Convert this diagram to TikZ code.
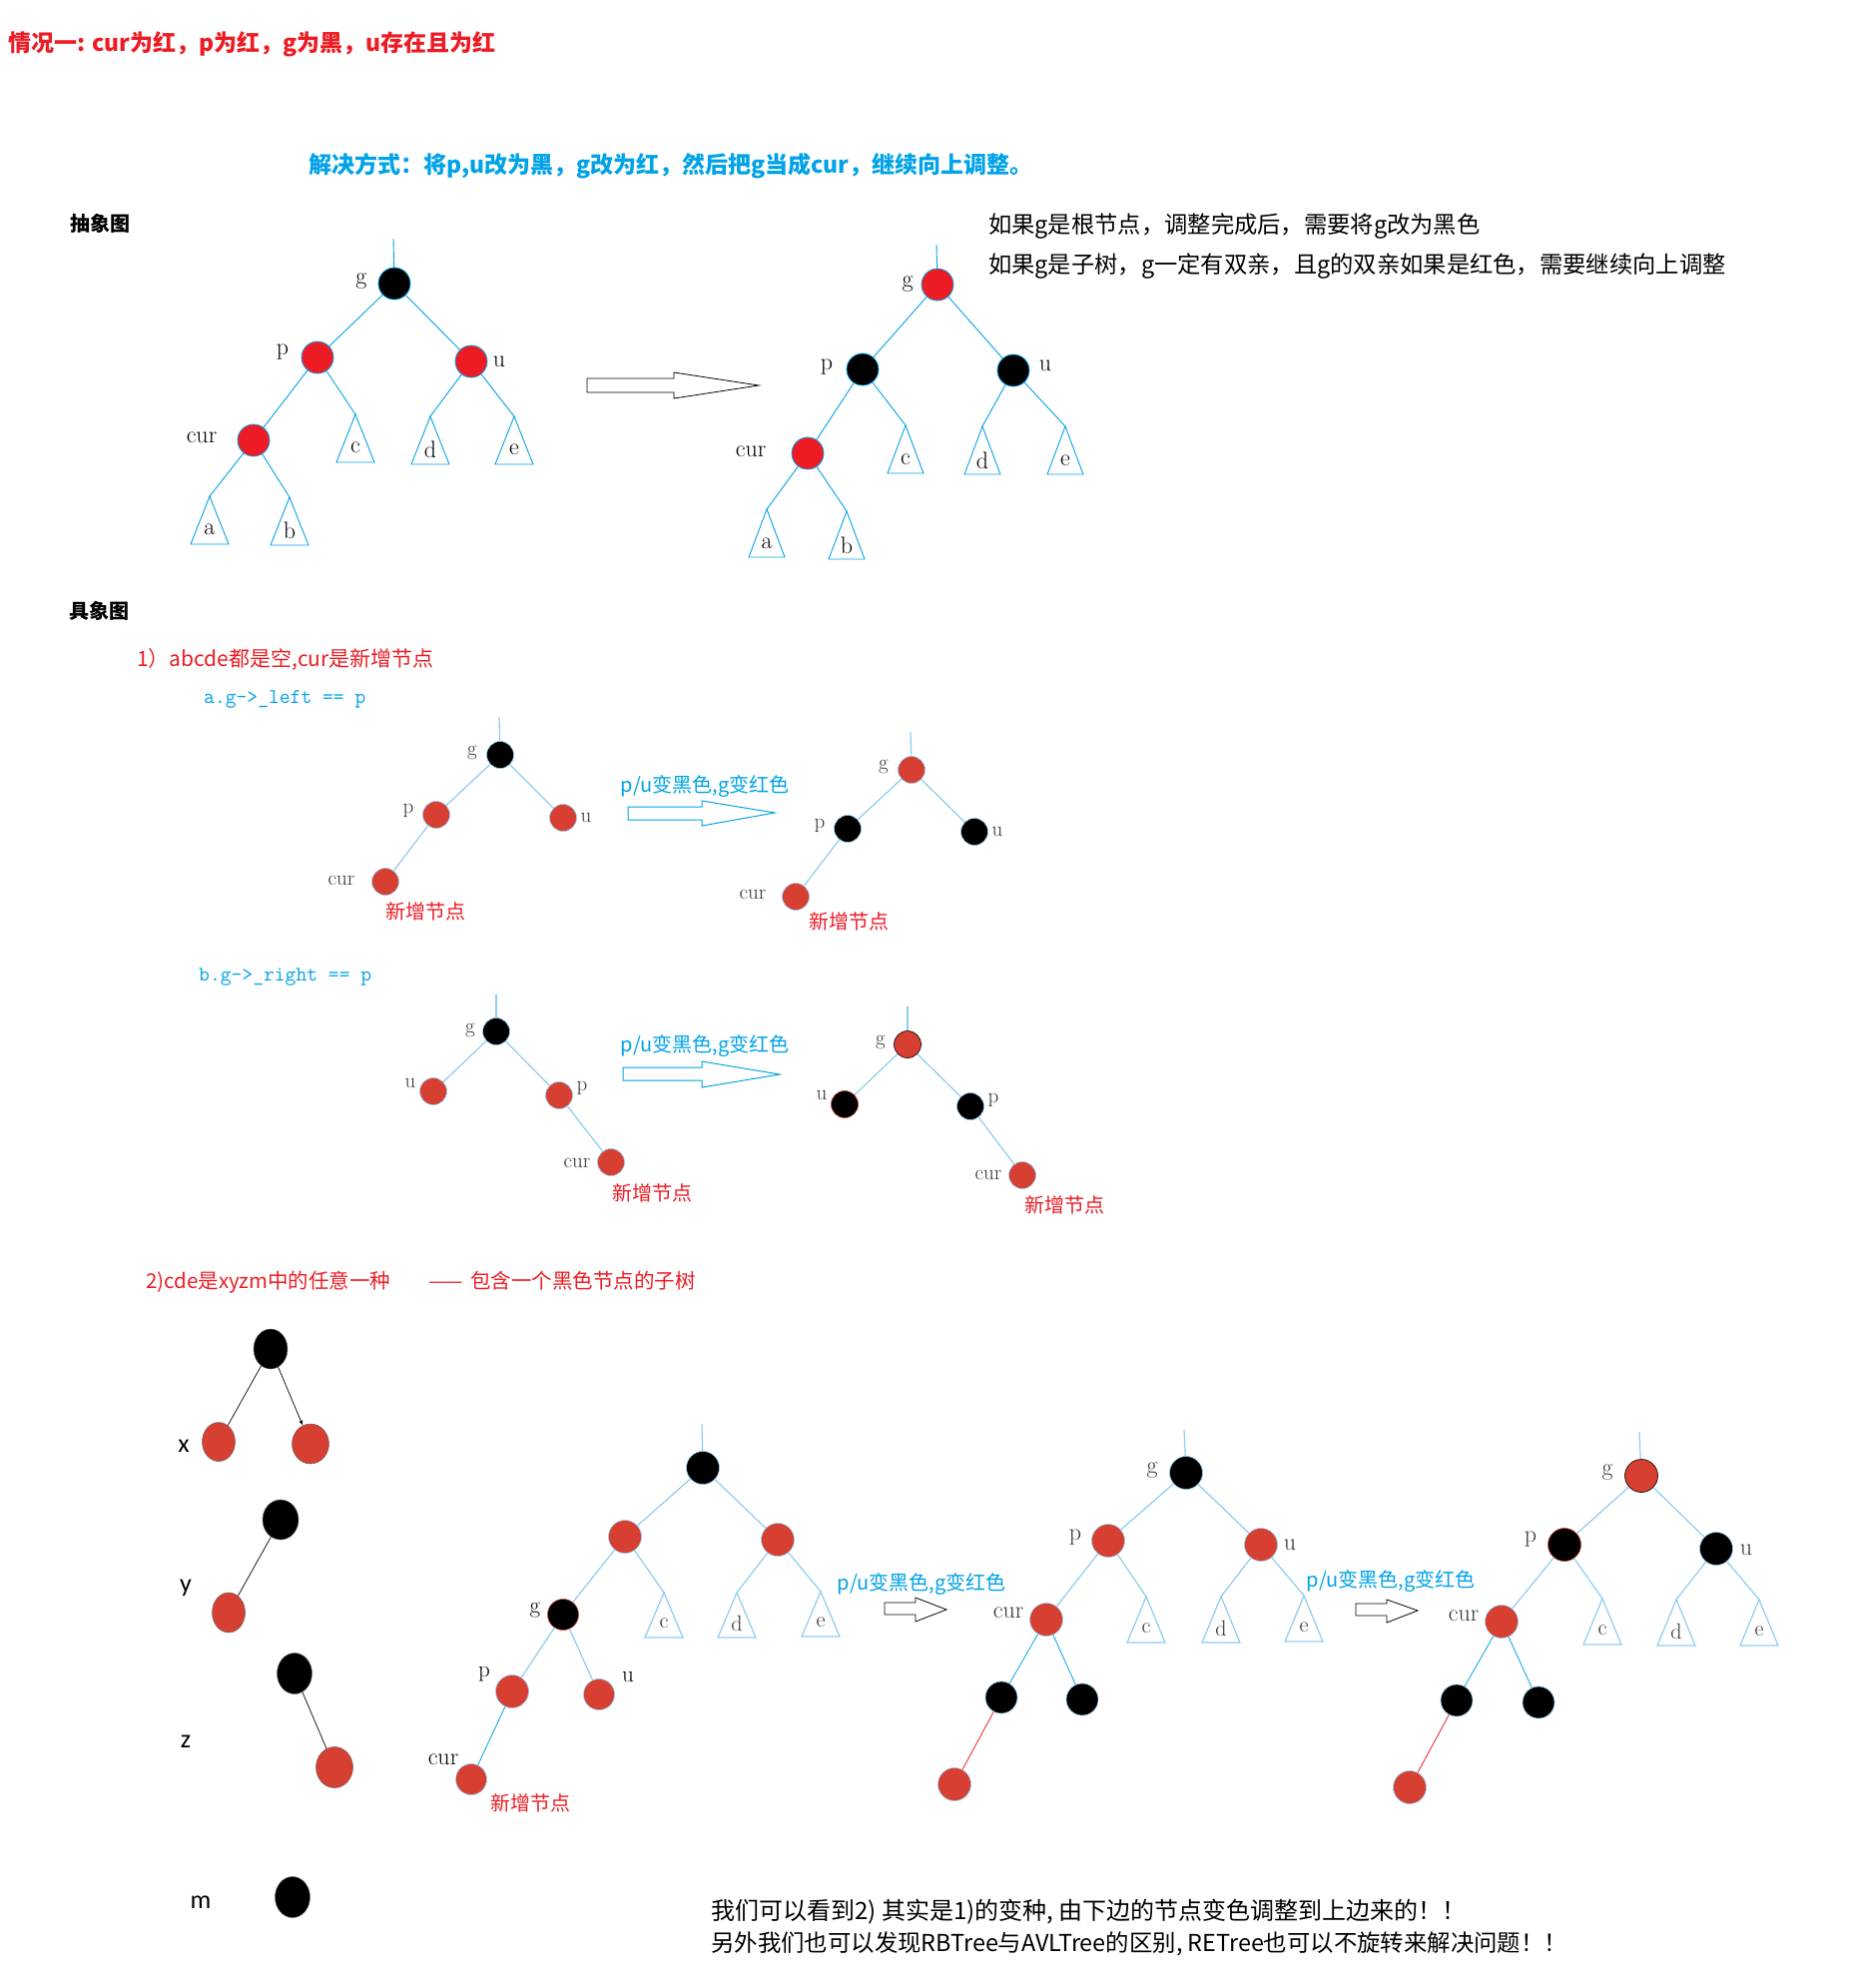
\documentclass[tikz,border=0pt]{standalone}
\usepackage{fontspec}
\usepackage{tikz}
\usetikzlibrary{shapes.geometric}
\newfontfamily\cjk{Noto Sans CJK SC}
\newfontfamily\calib{Carlito}
\definecolor{pRed}{HTML}{ED1C24}
\definecolor{tRed}{HTML}{D63F31}
\definecolor{pBlue}{HTML}{00A2E8}
\definecolor{lBlue}{HTML}{8FCDEF}
\definecolor{lGray}{HTML}{333333}
\newcommand{\fsz}[1]{\fontsize{#1}{#1}\selectfont}

\begin{document}
\begin{tikzpicture}[x=1pt,y=-1pt,>=latex,
	ab red/.style={circle,fill=pRed,draw=pBlue,line width=0.8pt,inner sep=0pt,minimum size=32},
	ab black/.style={circle,fill=black,draw=pBlue,line width=0.8pt,inner sep=0pt,minimum size=32},
	red node/.style={circle,fill=tRed,draw=lBlue,line width=0.6pt,inner sep=0pt,minimum size=#1},
	red node/.default=27,
	black node/.style={circle,fill=black,draw=lBlue,line width=0.6pt,inner sep=0pt,minimum size=#1},
	black node/.default=27,
	ab edge/.style={pBlue,line width=0.9pt},
	edge/.style={lBlue,line width=1.2pt},
	ab tri/.style={pBlue,line width=0.9pt},
	tri/.style={lBlue,line width=1.2pt},
	lbl/.style={inner sep=0pt,font=\fsz{24}},
	small lbl/.style={inner sep=0pt,text=lGray,font=\fsz{21}},
	new/.style={inner sep=0pt,text=pRed,font=\cjk\fsz{20}},
	arrow note/.style={inner sep=0pt,text=pBlue,font=\cjk\fsz{20}},
	hollow/.style={draw=black,fill=white,line width=0.8pt},
	blue hollow/.style={draw=pBlue,fill=white,line width=1pt},
	xy/.style={ellipse,inner sep=0pt,minimum width=34,minimum height=40,draw=black!60,line width=0.5pt},
	xy lbl/.style={inner sep=0pt,font=\calib\fsz{26}}]
	\useasboundingbox (0,0) rectangle (1854,1991);
	\fill[white] (0,0) rectangle (1854,1991);

	% headings
	\node[anchor=west,inner sep=0pt,text=pRed,font=\cjk\bfseries\fsz{23}] (title) at (8,44) {情况一: cur为红，p为红，g为黑，u存在且为红};
	\node[anchor=west,inner sep=0pt,text=pBlue,font=\cjk\bfseries\fsz{23}] (fix) at (309,166) {解决方式：将p,u改为黑，g改为红，然后把g当成cur，继续向上调整。};
	\node[anchor=west,inner sep=0pt,font=\cjk\bfseries\fsz{20}] (abs) at (70,224) {抽象图};
	\node[anchor=west,inner sep=0pt,font=\cjk\fsz{23.3}] (root note) at (990,227) {如果g是根节点，调整完成后，需要将g改为黑色};
	\node[anchor=west,inner sep=0pt,font=\cjk\fsz{23.3}] (sub note) at (990,267) {如果g是子树，g一定有双亲，且g的双亲如果是红色，需要继续向上调整};

	% abstract tree, before
	\coordinate (As) at (394,239);
	\node[ab black] (Ag) at (395,284) {};
	\node[ab red] (Ap) at (318,358) {};
	\node[ab red] (Au) at (472,362) {};
	\node[ab red] (Acur) at (254,441) {};
	\node[lbl] (Agl) at (362,282) {g};
	\node[lbl] (Apl) at (283,353) {p};
	\node[lbl] (Aul) at (500,362) {u};
	\node[lbl] (Acurl) at (202,438) {cur};
	\foreach \nm/\lab/\x/\y in {Aa/a/210/497,Ab/b/290/498,Ac/c/356/415,Ad/d/431/417,Ae/e/515/417}{
		\draw[ab tri] (\x,\y) coordinate (\nm) -- ++(-19,48) -- ++(38,0) -- cycle;
		\node[lbl] (\nm l) at (\x,\y+33) {\lab};
	}
	\draw[ab edge] (As) -- (Ag);
	\draw[ab edge] (Ag) -- (Ap);
	\draw[ab edge] (Ag) -- (Au);
	\draw[ab edge] (Ap) -- (Acur);
	\draw[ab edge] (Ap) -- (Ac);
	\draw[ab edge] (Au) -- (Ad);
	\draw[ab edge] (Au) -- (Ae);
	\draw[ab edge] (Acur) -- (Aa);
	\draw[ab edge] (Acur) -- (Ab);

	\draw[hollow] (588,379) -- (675,379) -- (675,373) -- (760,386) -- (675,399) -- (675,393) -- (588,393) -- cycle;

	% abstract tree, after
	\coordinate (Bs) at (938,245);
	\node[ab red] (Bg) at (939,285) {};
	\node[ab black] (Bp) at (864,370) {};
	\node[ab black] (Bu) at (1015,371) {};
	\node[ab red] (Bcur) at (809,454) {};
	\node[lbl] (Bgl) at (909,285) {g};
	\node[lbl] (Bpl) at (828,368) {p};
	\node[lbl] (Bul) at (1047,366) {u};
	\node[lbl] (Bcurl) at (752,452) {cur};
	\foreach \nm/\lab/\x/\y in {Ba/a/768/510,Bb/b/848/512,Bc/c/907/426,Bd/d/984/427,Be/e/1067/427}{
		\draw[ab tri] (\x,\y) coordinate (\nm) -- ++(-18,48) -- ++(36,0) -- cycle;
		\node[lbl] (\nm l) at (\x,\y+34) {\lab};
	}
	\draw[ab edge] (Bs) -- (Bg);
	\draw[ab edge] (Bg) -- (Bp);
	\draw[ab edge] (Bg) -- (Bu);
	\draw[ab edge] (Bp) -- (Bcur);
	\draw[ab edge] (Bp) -- (Bc);
	\draw[ab edge] (Bu) -- (Bd);
	\draw[ab edge] (Bu) -- (Be);
	\draw[ab edge] (Bcur) -- (Ba);
	\draw[ab edge] (Bcur) -- (Bb);

	% concrete
	\node[anchor=west,inner sep=0pt,font=\cjk\bfseries\fsz{20}] (con) at (69,612) {具象图};
	\node[anchor=west,inner sep=0pt,text=pRed,font=\cjk\fsz{21}] (case1) at (137,660) {1）abcde都是空,cur是新增节点};
	\node[anchor=west,inner sep=0pt,text=pBlue,font=\ttfamily\fsz{21}] (case1a) at (204,700) {a.g->\_left == p};

	% 1a before
	\coordinate (Cs) at (500,718);
	\node[black node] (Cg) at (501,756) {};
	\node[red node] (Cp) at (437,816) {};
	\node[red node] (Cu) at (564,819) {};
	\node[red node] (Ccur) at (386,883) {};
	\node[small lbl] (Cgl) at (473,754) {g};
	\node[small lbl] (Cpl) at (409,812) {p};
	\node[small lbl] (Cul) at (587,819) {u};
	\node[small lbl] (Ccurl) at (342,882) {cur};
	\node[new] (Cnew) at (426,913) {新增节点};
	\draw[edge] (Cs) -- (Cg);
	\draw[edge] (Cg) -- (Cp);
	\draw[edge] (Cg) -- (Cu);
	\draw[edge] (Cp) -- (Ccur);

	\node[arrow note] (note1) at (706,788) {p/u变黑色,g变红色};
	\draw[blue hollow] (629,808) -- (703,808) -- (703,802) -- (776,814) -- (703,827) -- (703,821) -- (629,821) -- cycle;

	% 1a after
	\coordinate (Ds) at (912,733);
	\node[red node] (Dg) at (913,771) {};
	\node[black node] (Dp) at (849,830) {};
	\node[black node] (Du) at (976,833) {};
	\node[red node] (Dcur) at (797,898) {};
	\node[small lbl] (Dgl) at (885,768) {g};
	\node[small lbl] (Dpl) at (821,827) {p};
	\node[small lbl] (Dul) at (999,833) {u};
	\node[small lbl] (Dcurl) at (754,896) {cur};
	\node[new] (Dnew) at (850,923) {新增节点};
	\draw[edge] (Ds) -- (Dg);
	\draw[edge] (Dg) -- (Dp);
	\draw[edge] (Dg) -- (Du);
	\draw[edge] (Dp) -- (Dcur);

	% 1b before
	\node[anchor=west,inner sep=0pt,text=pBlue,font=\ttfamily\fsz{21}] (case1b) at (199,978) {b.g->\_right == p};
	\coordinate (Es) at (497,996);
	\node[black node] (Eg) at (497,1033) {};
	\node[red node] (Eu) at (434,1093) {};
	\node[red node] (Ep) at (560,1097) {};
	\node[red node] (Ecur) at (612,1164) {};
	\node[small lbl] (Egl) at (471,1032) {g};
	\node[small lbl] (Eul) at (411,1085) {u};
	\node[small lbl] (Epl) at (583,1090) {p};
	\node[small lbl] (Ecurl) at (578,1165) {cur};
	\node[new] (Enew) at (653,1195) {新增节点};
	\draw[edge] (Es) -- (Eg);
	\draw[edge] (Eg) -- (Eu);
	\draw[edge] (Eg) -- (Ep);
	\draw[edge] (Ep) -- (Ecur);

	\node[arrow note] (note2) at (706,1047) {p/u变黑色,g变红色};
	\draw[blue hollow] (624,1069) -- (703,1069) -- (703,1063) -- (781,1076) -- (703,1089) -- (703,1082) -- (624,1082) -- cycle;

	% 1b after
	\coordinate (Fs) at (909,1008);
	\node[red node,draw=black] (Fg) at (909,1046) {};
	\node[black node,draw=tRed] (Fu) at (846,1106) {};
	\node[black node] (Fp) at (972,1108) {};
	\node[red node] (Fcur) at (1024,1177) {};
	\node[small lbl] (Fgl) at (882,1044) {g};
	\node[small lbl] (Ful) at (823,1097) {u};
	\node[small lbl] (Fpl) at (995,1102) {p};
	\node[small lbl] (Fcurl) at (990,1177) {cur};
	\node[new] (Fnew) at (1066,1207) {新增节点};
	\draw[edge] (Fs) -- (Fg);
	\draw[edge] (Fg) -- (Fu);
	\draw[edge] (Fg) -- (Fp);
	\draw[edge] (Fp) -- (Fcur);

	% case 2
	\node[anchor=west,inner sep=0pt,text=pRed,font=\cjk\fsz{20.5}] (case2) at (146,1284) {2)cde是xyzm中的任意一种\hspace{38pt}——\hspace{8pt}包含一个黑色节点的子树};

	\node[xy,fill=black] (Xt) at (271,1351) {};
	\node[xy,fill=tRed,minimum width=33,minimum height=39] (Xl) at (219,1444) {};
	\node[xy,fill=tRed,minimum width=37] (Xr) at (311,1446) {};
	\node[xy lbl] (Xn) at (184,1448) {x};
	\draw[black,line width=0.7pt] (Xt) -- (Xl);
	\draw[black,line width=0.7pt,->] (Xt) -- (Xr);

	\node[xy,fill=black,minimum width=36] (Yt) at (281,1522) {};
	\node[xy,fill=tRed,minimum width=33] (Yl) at (229,1615) {};
	\node[xy lbl] (Yn) at (186,1590) {y};
	\draw[black,line width=0.7pt] (Yt) -- (Yl);

	\node[xy,fill=black,minimum width=35,minimum height=41] (Zt) at (295,1676) {};
	\node[xy,fill=tRed,minimum width=37,minimum height=41] (Zr) at (335,1770) {};
	\node[xy lbl] (Zn) at (186,1744) {z};
	\draw[black,line width=0.7pt] (Zt) -- (Zr);

	\node[xy,fill=black,minimum width=35,minimum height=41] (Mt) at (293,1900) {};
	\node[xy lbl] (Mn) at (201,1905) {m};

	% case 2, tree before
	\coordinate (Gs) at (703,1426);
	\node[black node=33] (Gr) at (704,1470) {};
	\node[red node=33] (Gp) at (626,1539) {};
	\node[red node=33] (Gu) at (779,1542) {};
	\node[black node=31,draw=tRed] (Gg) at (564,1617) {};
	\node[red node=33] (Gpp) at (513,1694) {};
	\node[red node=31] (Guu) at (600,1697) {};
	\node[red node=31] (Gcur) at (472,1782) {};
	\node[lbl,font=\fsz{23}] (Ggl) at (536,1613) {g};
	\node[lbl,font=\fsz{23}] (Gppl) at (485,1677) {p};
	\node[lbl,font=\fsz{23}] (Guul) at (629,1680) {u};
	\node[lbl,font=\fsz{24}] (Gcurl) at (444,1762) {cur};
	\node[new] (Gnew) at (531,1806) {新增节点};
	\foreach \nm/\lab/\x/\y in {Gc/c/665/1595,Gd/d/738/1595,Ge/e/822/1594}{
		\draw[tri] (\x,\y) coordinate (\nm) -- ++(-19,45) -- ++(38,0) -- cycle;
		\node[lbl,font=\fsz{22},text=lGray] (\nm l) at (\x,\y+31) {\lab};
	}
	\draw[edge] (Gs) -- (Gr);
	\draw[edge] (Gr) -- (Gp);
	\draw[edge] (Gr) -- (Gu);
	\draw[edge] (Gp) -- (Gg);
	\draw[edge] (Gp) -- (Gc);
	\draw[edge] (Gu) -- (Gd);
	\draw[edge] (Gu) -- (Ge);
	\draw[edge] (Gg) -- (Gpp);
	\draw[edge] (Gg) -- (Guu);
	\draw[pBlue,line width=0.8pt] (Gpp) -- (Gcur);

	\node[arrow note] (note3) at (923,1586) {p/u变黑色,g变红色};
	\draw[hollow] (886,1605) -- (917,1605) -- (917,1600) -- (948,1612) -- (917,1624) -- (917,1617) -- (886,1617) -- cycle;

	% case 2, tree middle
	\coordinate (Hs) at (1186,1432);
	\node[black node=33] (Hg) at (1188,1475) {};
	\node[red node=33] (Hp) at (1110,1543) {};
	\node[red node=33] (Hu) at (1263,1547) {};
	\node[red node=33] (Hcur) at (1048,1622) {};
	\node[black node=32] (Hl) at (1003,1700) {};
	\node[black node=32] (Hr) at (1084,1702) {};
	\node[red node=33] (Hn) at (956,1787) {};
	\node[lbl,font=\fsz{24},text=lGray] (Hgl) at (1154,1473) {g};
	\node[lbl,font=\fsz{24},text=lGray] (Hpl) at (1077,1540) {p};
	\node[lbl,font=\fsz{24},text=lGray] (Hul) at (1292,1547) {u};
	\node[lbl,font=\fsz{24},text=lGray] (Hcurl) at (1010,1615) {cur};
	\foreach \nm/\lab/\x/\y in {Hc/c/1148/1599,Hd/d/1223/1599,He/e/1306/1598}{
		\draw[tri] (\x,\y) coordinate (\nm) -- ++(-19,46) -- ++(38,0) -- cycle;
		\node[lbl,font=\fsz{22},text=lGray] (\nm l) at (\x,\y+32) {\lab};
	}
	\draw[edge] (Hs) -- (Hg);
	\draw[edge] (Hg) -- (Hp);
	\draw[edge] (Hg) -- (Hu);
	\draw[edge] (Hp) -- (Hcur);
	\draw[edge] (Hp) -- (Hc);
	\draw[edge] (Hu) -- (Hd);
	\draw[edge] (Hu) -- (He);
	\draw[pBlue,line width=0.8pt] (Hcur) -- (Hl);
	\draw[pBlue,line width=0.8pt] (Hcur) -- (Hr);
	\draw[pRed,line width=0.8pt] (Hl) -- (Hn);

	\node[arrow note] (note4) at (1393,1583) {p/u变黑色,g变红色};
	\draw[hollow] (1358,1606) -- (1389,1606) -- (1389,1602) -- (1420,1613) -- (1389,1625) -- (1389,1618) -- (1358,1618) -- cycle;

	% case 2, tree after
	\coordinate (Ks) at (1642,1434);
	\node[red node=33,draw=black] (Kg) at (1644,1478) {};
	\node[black node=33,draw=tRed] (Kp) at (1567,1547) {};
	\node[black node=33] (Ku) at (1719,1551) {};
	\node[red node=33] (Kcur) at (1504,1624) {};
	\node[black node=32] (Kl) at (1459,1703) {};
	\node[black node=32] (Kr) at (1541,1705) {};
	\node[red node=33] (Kn) at (1412,1790) {};
	\node[lbl,font=\fsz{24},text=lGray] (Kgl) at (1610,1475) {g};
	\node[lbl,font=\fsz{24},text=lGray] (Kpl) at (1533,1542) {p};
	\node[lbl,font=\fsz{24},text=lGray] (Kul) at (1749,1552) {u};
	\node[lbl,font=\fsz{24},text=lGray] (Kcurl) at (1466,1618) {cur};
	\foreach \nm/\lab/\x/\y in {Kc/c/1605/1601,Kd/d/1679/1602,Ke/e/1762/1602}{
		\draw[tri] (\x,\y) coordinate (\nm) -- ++(-19,46) -- ++(38,0) -- cycle;
		\node[lbl,font=\fsz{22},text=lGray] (\nm l) at (\x,\y+32) {\lab};
	}
	\draw[edge] (Ks) -- (Kg);
	\draw[edge] (Kg) -- (Kp);
	\draw[edge] (Kg) -- (Ku);
	\draw[edge] (Kp) -- (Kcur);
	\draw[edge] (Kp) -- (Kc);
	\draw[edge] (Ku) -- (Kd);
	\draw[edge] (Ku) -- (Ke);
	\draw[pBlue,line width=0.8pt] (Kcur) -- (Kl);
	\draw[pBlue,line width=0.8pt] (Kcur) -- (Kr);
	\draw[pRed,line width=0.8pt] (Kl) -- (Kn);

	% closing remarks
	\node[anchor=west,inner sep=0pt,font=\cjk\fsz{24}] (sum1) at (712,1915) {我们可以看到2) 其实是1)的变种, 由下边的节点变色调整到上边来的！！};
	\node[anchor=west,inner sep=0pt,font=\cjk\fsz{23.4}] (sum2) at (712,1947) {另外我们也可以发现RBTree与AVLTree的区别, RETree也可以不旋转来解决问题！！};
\end{tikzpicture}
\end{document}
